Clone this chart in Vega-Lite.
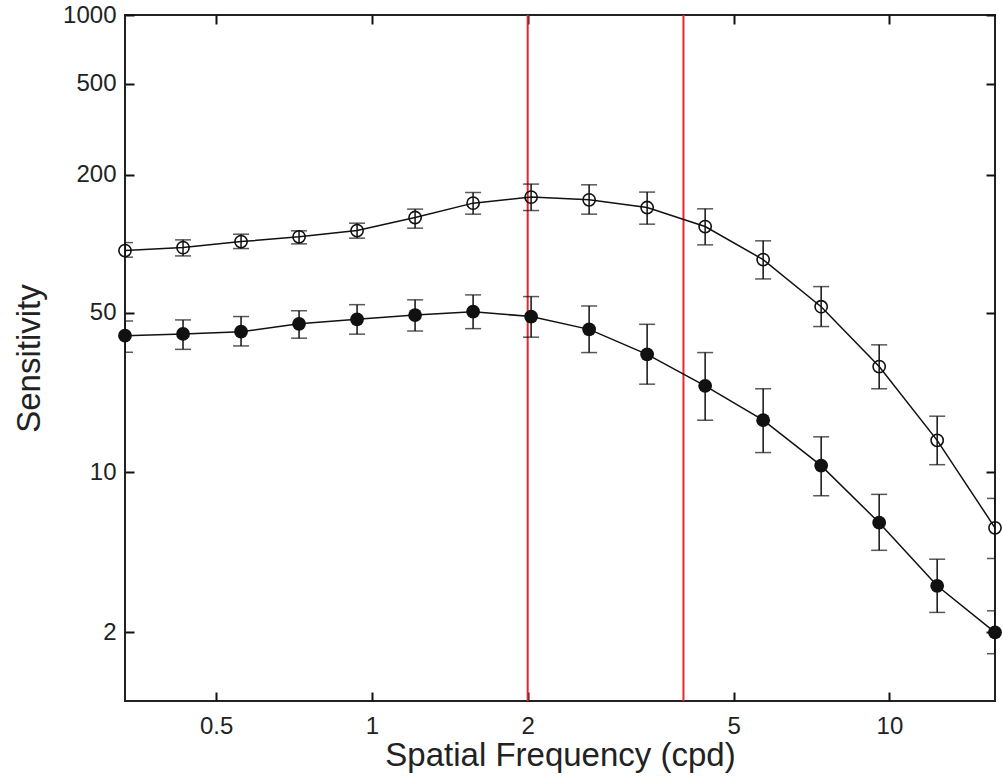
{
  "$schema": "https://vega.github.io/schema/vega-lite/v6.json",
  "width": 870,
  "height": 686,
  "autosize": "none",
  "padding": {"left": 125, "top": 15, "right": 8, "bottom": 77},
  "background": "white",
  "config": {
    "view": {"stroke": "#222", "strokeWidth": 2},
    "font": "Liberation Sans",
    "axis": {
      "grid": false,
      "domain": false,
      "ticks": true,
      "zindex": 1,
      "offset": -9,
      "tickColor": "#111",
      "tickOpacity": 1,
      "tickWidth": 2,
      "tickSize": 9,
      "labelFont": "Liberation Sans",
      "labelFontSize": 24,
      "labelColor": "#222",
      "titleFont": "Liberation Sans",
      "titleFontSize": 33,
      "titleFontWeight": "normal",
      "titleColor": "#222"
    }
  },
  "datasets": {
    "pts": [
      {"series": "open", "x": 0.3333, "y": 93.3, "lo": 87.3, "hi": 101.1},
      {"series": "open", "x": 0.4315, "y": 96.1, "lo": 88.4, "hi": 103.9},
      {"series": "open", "x": 0.5586, "y": 102.1, "lo": 95.2, "hi": 110.0},
      {"series": "open", "x": 0.7231, "y": 107.1, "lo": 99.8, "hi": 113.8},
      {"series": "open", "x": 0.9361, "y": 114.1, "lo": 105.7, "hi": 122.9},
      {"series": "open", "x": 1.2118, "y": 130.1, "lo": 116.9, "hi": 141.6},
      {"series": "open", "x": 1.5687, "y": 150.4, "lo": 134.6, "hi": 167.4},
      {"series": "open", "x": 2.0307, "y": 159.8, "lo": 139.6, "hi": 182.2},
      {"series": "open", "x": 2.6288, "y": 155.5, "lo": 134.6, "hi": 180.9},
      {"series": "open", "x": 3.403, "y": 143.9, "lo": 121.7, "hi": 168.1},
      {"series": "open", "x": 4.4052, "y": 118.8, "lo": 98.8, "hi": 142.0},
      {"series": "open", "x": 5.7026, "y": 85.2, "lo": 70.1, "hi": 102.9},
      {"series": "open", "x": 7.382, "y": 53.0, "lo": 43.4, "hi": 64.9},
      {"series": "open", "x": 9.556, "y": 29.0, "lo": 23.2, "hi": 36.1},
      {"series": "open", "x": 12.37, "y": 13.8, "lo": 10.8, "hi": 17.6},
      {"series": "open", "x": 16.0, "y": 5.72, "lo": 4.2, "hi": 7.69},
      {"series": "filled", "x": 0.3333, "y": 39.6, "lo": 33.5, "hi": 45.9},
      {"series": "filled", "x": 0.4315, "y": 40.3, "lo": 34.5, "hi": 46.4},
      {"series": "filled", "x": 0.5586, "y": 41.2, "lo": 35.7, "hi": 48.0},
      {"series": "filled", "x": 0.7231, "y": 44.6, "lo": 38.6, "hi": 50.9},
      {"series": "filled", "x": 0.9361, "y": 46.7, "lo": 40.2, "hi": 54.1},
      {"series": "filled", "x": 1.2118, "y": 48.7, "lo": 41.5, "hi": 56.8},
      {"series": "filled", "x": 1.5687, "y": 50.4, "lo": 42.5, "hi": 59.7},
      {"series": "filled", "x": 2.0307, "y": 48.0, "lo": 39.0, "hi": 58.7},
      {"series": "filled", "x": 2.6288, "y": 42.2, "lo": 33.4, "hi": 53.4},
      {"series": "filled", "x": 3.403, "y": 32.8, "lo": 24.3, "hi": 44.4},
      {"series": "filled", "x": 4.4052, "y": 23.9, "lo": 16.9, "hi": 33.4},
      {"series": "filled", "x": 5.7026, "y": 16.9, "lo": 12.2, "hi": 23.2},
      {"series": "filled", "x": 7.382, "y": 10.7, "lo": 7.9, "hi": 14.3},
      {"series": "filled", "x": 9.556, "y": 6.02, "lo": 4.56, "hi": 8.01},
      {"series": "filled", "x": 12.37, "y": 3.19, "lo": 2.44, "hi": 4.17},
      {"series": "filled", "x": 16.0, "y": 1.995, "lo": 1.61, "hi": 2.48}
    ],
    "vlines": [{"x": 2}, {"x": 4}]
  },
  "layer": [
    {
      "data": {"name": "vlines"},
      "mark": {"type": "rule", "color": "#e8262b", "strokeWidth": 2},
      "encoding": {
        "x": {"field": "x", "type": "quantitative", "scale": {"type": "log", "domain": [0.3333, 16], "nice": false}, "axis": null}
      }
    },
    {
      "data": {"name": "pts"},
      "mark": {"type": "rule", "color": "#111", "strokeWidth": 1.5, "clip": true},
      "encoding": {
        "x": {
          "field": "x", "type": "quantitative",
          "scale": {"type": "log", "domain": [0.3333, 16], "nice": false},
          "axis": {"orient": "bottom", "values": [0.5, 1, 2, 5, 10], "format": "~g", "title": "Spatial Frequency (cpd)", "labelPadding": 13, "titlePadding": 1}
        },
        "y": {
          "field": "lo", "type": "quantitative",
          "scale": {"type": "log", "domain": [1, 1000], "nice": false},
          "axis": {"orient": "left", "values": [2, 10, 50, 200, 500, 1000], "format": "~g", "title": "Sensitivity", "labelPadding": 9, "titlePadding": 16}
        },
        "y2": {"field": "hi"}
      }
    },
    {
      "data": {"name": "pts"},
      "mark": {"type": "tick", "orient": "horizontal", "size": 16, "thickness": 1.5, "color": "#111", "clip": true},
      "encoding": {
        "x": {"field": "x", "type": "quantitative", "axis": null},
        "y": {"field": "hi", "type": "quantitative", "axis": null}
      }
    },
    {
      "data": {"name": "pts"},
      "mark": {"type": "tick", "orient": "horizontal", "size": 16, "thickness": 1.5, "color": "#111", "clip": true},
      "encoding": {
        "x": {"field": "x", "type": "quantitative", "axis": null},
        "y": {"field": "lo", "type": "quantitative", "axis": null}
      }
    },
    {
      "data": {"name": "pts"},
      "mark": {"type": "line", "color": "#111", "strokeWidth": 1.5},
      "encoding": {
        "x": {"field": "x", "type": "quantitative", "axis": null},
        "y": {"field": "y", "type": "quantitative", "axis": null},
        "detail": {"field": "series"}
      }
    },
    {
      "data": {"name": "pts"},
      "transform": [{"filter": "datum.series === 'open'"}],
      "mark": {"type": "point", "shape": "circle", "filled": false, "size": 150, "strokeWidth": 1.6, "color": "#111", "opacity": 1},
      "encoding": {
        "x": {"field": "x", "type": "quantitative", "axis": null},
        "y": {"field": "y", "type": "quantitative", "axis": null}
      }
    },
    {
      "data": {"name": "pts"},
      "transform": [{"filter": "datum.series === 'filled'"}],
      "mark": {"type": "point", "shape": "circle", "filled": true, "size": 190, "color": "#111", "opacity": 1},
      "encoding": {
        "x": {"field": "x", "type": "quantitative", "axis": null},
        "y": {"field": "y", "type": "quantitative", "axis": null}
      }
    },
    {
      "data": {"name": "pts"},
      "mark": {"type": "point", "opacity": 0},
      "encoding": {
        "x": {"field": "x", "type": "quantitative", "axis": {"orient": "top", "values": [0.5, 1, 2, 5, 10], "labels": false, "title": null}},
        "y": {"field": "y", "type": "quantitative", "axis": {"orient": "right", "values": [2, 10, 50, 200, 500, 1000], "labels": false, "title": null}}
      }
    }
  ],
  "resolve": {"axis": {"x": "independent", "y": "independent"}}
}
